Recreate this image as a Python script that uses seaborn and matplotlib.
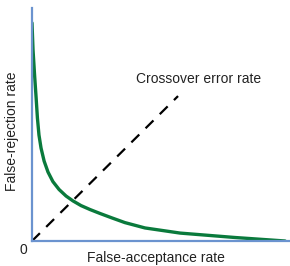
import matplotlib
matplotlib.use("Agg")
import matplotlib.pyplot as plt
import seaborn as sns
import pandas as pd

sns.set_style("white")
plt.rcParams['font.family'] = ['Liberation Sans', 'DejaVu Sans']

# Curve values (x: false-acceptance, y: false-rejection), 0..100 scale
far = [0.0, 0.4, 1.0, 1.6, 2.1, 2.7, 3.5, 4.7, 6.2, 8.1, 10.5, 13.2, 15.9,
       19.0, 22.5, 26.4, 31.0, 36.0, 43.8, 57.4, 78.7, 98.1]
frr = [93.6, 82.0, 71.2, 61.4, 52.8, 45.5, 39.9, 34.3, 29.6, 25.5, 22.1, 19.3, 17.2,
       15.2, 13.5, 11.8, 9.9, 7.9, 5.6, 3.4, 1.5, 0.0]
diag_x = [0, 56.6]
diag_y = [0, 62.2]

curve = pd.DataFrame({"far": far, "frr": frr})
diag = pd.DataFrame({"x": diag_x, "y": diag_y})

fig = plt.figure(figsize=(2.9, 2.66), dpi=100)
ax = fig.add_axes([32/290, 25/266, 258/290, 233/266])

sns.lineplot(data=diag, x="x", y="y", ax=ax, color="black", lw=1.6,
             linestyle=(0, (5, 4)))
sns.lineplot(data=curve, x="far", y="frr", ax=ax, color="#0a7a3c", lw=2.4,
             solid_capstyle="round", solid_joinstyle="round")

ax.set_xlim(0, 100)
ax.set_ylim(0, 100)
ax.set_xticks([])
ax.set_yticks([])
ax.set_xlabel("")
ax.set_ylabel("")
for s in ["top", "right"]:
    ax.spines[s].set_visible(False)
for s in ["left", "bottom"]:
    ax.spines[s].set_color("#6b93cf")
    ax.spines[s].set_linewidth(1.6)

fs = 10
fig.text(199/290, 1 - 79/266, "Crossover error rate", ha="center", va="center", fontsize=fs, color="#222222")
fig.text(156/290, 1 - 258/266, "False-acceptance rate", ha="center", va="center", fontsize=fs, color="#222222")
fig.text(12/290, 1 - 131/266, "False-rejection rate", ha="center", va="center", fontsize=fs, rotation=90, color="#222222")
fig.text(23/290, 1 - 250/266, "0", ha="center", va="center", fontsize=fs, color="#222222")

fig.savefig("out.png", dpi=100)
